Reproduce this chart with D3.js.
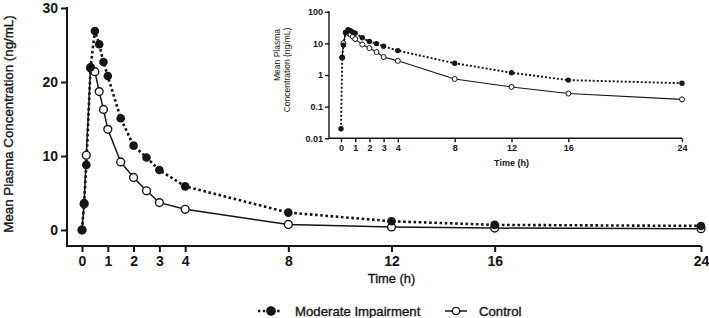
<html>
<head>
<script src="https://d3js.org/d3.v7.min.js"></script>
<style>
    body { margin: 0; background: white; }
    text { font-family: "Liberation Sans", Arial, Helvetica, sans-serif; fill: #151515; }
    .tick line, .axisline { stroke: #151515; }
    .medium { stroke: #151515; stroke-width: 0.35px; }
</style>
</head>
<body>
<script>
    // sampling times (h) and mean concentrations (ng/mL)
    var times    = [0, 0.083, 0.167, 0.333, 0.5, 0.667, 0.833, 1, 1.5, 2, 2.5, 3, 4, 8, 12, 16, 24];
    var moderate = [0.02, 3.65, 8.8, 22.0, 26.9, 25.1, 22.7, 20.8, 15.1, 11.4, 9.8, 8.1, 5.9, 2.35, 1.18, 0.69, 0.55];
    var control  = [0, 3.5, 10.1, 21.9, 21.4, 18.7, 16.3, 13.6, 9.2, 7.1, 5.3, 3.7, 2.8, 0.75, 0.42, 0.26, 0.17];
    var seriesNames = ["Moderate Impairment", "Control"];
    var xTicks = [0, 1, 2, 3, 4, 8, 12, 16, 24];
    var yTicksMain = [0, 10, 20, 30];
    var yTicksLog = [0.01, 0.1, 1, 10, 100];

    var width = 709, height = 318;
    var svg = d3.select("body").append("svg").attr("width", width).attr("height", height);

    var modPts = times.map(function(t, i) { return [t, moderate[i]]; });
    var ctlPts = times.map(function(t, i) { return [t, control[i]]; });

    // ---------- main panel ----------
    var x = d3.scaleLinear().domain([0, 24]).range([82, 701]);
    var y = d3.scaleLinear().domain([0, 30]).range([230, 8]);
    var axisY0 = 246, axisX0 = 67;

    var gx = svg.append("g").attr("transform", "translate(0," + axisY0 + ")")
        .call(d3.axisBottom(x).tickValues(xTicks).tickSize(6).tickPadding(4).tickSizeOuter(0));
    gx.select(".domain").remove();
    gx.selectAll(".tick line").attr("stroke-width", 2);
    gx.selectAll("text").style("font-size", "14px").style("font-weight", "bold").attr("fill", "#151515");

    var gy = svg.append("g").attr("transform", "translate(" + axisX0 + ",0)")
        .call(d3.axisLeft(y).tickValues(yTicksMain).tickSize(6).tickPadding(3).tickSizeOuter(0));
    gy.select(".domain").remove();
    gy.selectAll(".tick line").attr("stroke-width", 2);
    gy.selectAll("text").style("font-size", "14px").style("font-weight", "bold").attr("fill", "#151515");

    svg.append("line").attr("class", "axisline").attr("x1", axisX0).attr("x2", x(24))
        .attr("y1", axisY0).attr("y2", axisY0).attr("stroke-width", 2);
    svg.append("line").attr("class", "axisline").attr("x1", axisX0).attr("x2", axisX0)
        .attr("y1", y(30) - 1).attr("y2", axisY0 + 1).attr("stroke-width", 2);

    var line = d3.line().x(function(d) { return x(d[0]); }).y(function(d) { return y(d[1]); });

    svg.append("path").datum(ctlPts).attr("d", line).attr("fill", "none")
        .attr("stroke", "#151515").attr("stroke-width", 1.5);
    svg.append("path").datum(modPts).attr("d", line).attr("fill", "none")
        .attr("stroke", "#151515").attr("stroke-width", 2.6).attr("stroke-dasharray", "2.6,2.6");

    svg.append("g").selectAll("circle").data(ctlPts).enter().append("circle")
        .attr("cx", function(d) { return x(d[0]); }).attr("cy", function(d) { return y(d[1]); })
        .attr("r", 3.9).attr("fill", "white").attr("stroke", "#151515").attr("stroke-width", 1.4);
    svg.append("g").selectAll("circle").data(modPts).enter().append("circle")
        .attr("cx", function(d) { return x(d[0]); }).attr("cy", function(d) { return y(d[1]); })
        .attr("r", 4.3).attr("fill", "#151515");

    svg.append("text").attr("class", "medium").attr("transform", "translate(8,124) rotate(-90)").attr("dy", "0.35em")
        .attr("text-anchor", "middle").style("font-size", "13.3px")
        .text("Mean Plasma Concentration (ng/mL)");
    svg.append("text").attr("class", "medium").attr("x", x(12)).attr("y", 283).attr("text-anchor", "middle")
        .style("font-size", "12.9px").text("Time (h)");

    // ---------- inset (log scale) ----------
    var xi = d3.scaleLinear().domain([0, 24]).range([341, 682]);
    var yi = d3.scaleLog().domain([0.01, 100]).range([138.3, 11.7]);
    var inX0 = 329, inY0 = 138.3;

    var ix = svg.append("g").attr("transform", "translate(0," + inY0 + ")")
        .call(d3.axisBottom(xi).tickValues(xTicks).tickSize(4).tickPadding(2).tickSizeOuter(0));
    ix.select(".domain").remove();
    ix.selectAll(".tick line").attr("stroke-width", 1.4);
    ix.selectAll("text").style("font-size", "9px").style("font-weight", "bold").attr("fill", "#151515");

    var iy = svg.append("g").attr("transform", "translate(" + inX0 + ",0)")
        .call(d3.axisLeft(yi).tickValues(yTicksLog).tickFormat(function(d) { return String(d); })
            .tickSize(4).tickPadding(2).tickSizeOuter(0));
    iy.select(".domain").remove();
    iy.selectAll(".tick line").attr("stroke-width", 1.4);
    iy.selectAll("text").style("font-size", "9px").style("font-weight", "bold").attr("fill", "#151515");

    svg.append("line").attr("class", "axisline").attr("x1", inX0).attr("x2", xi(24))
        .attr("y1", inY0).attr("y2", inY0).attr("stroke-width", 1.4);
    svg.append("line").attr("class", "axisline").attr("x1", inX0).attr("x2", inX0)
        .attr("y1", yi(100) - 0.7).attr("y2", inY0 + 0.7).attr("stroke-width", 1.4);

    var lineLog = d3.line().x(function(d) { return xi(d[0]); }).y(function(d) { return yi(d[1]); });
    var ctlLog = ctlPts.filter(function(d) { return d[1] > 0; });

    svg.append("path").datum(ctlLog).attr("d", lineLog).attr("fill", "none")
        .attr("stroke", "#151515").attr("stroke-width", 1.1);
    svg.append("path").datum(modPts).attr("d", lineLog).attr("fill", "none")
        .attr("stroke", "#151515").attr("stroke-width", 1.9).attr("stroke-dasharray", "2,2");

    svg.append("g").selectAll("circle").data(ctlLog).enter().append("circle")
        .attr("cx", function(d) { return xi(d[0]); }).attr("cy", function(d) { return yi(d[1]); })
        .attr("r", 2.5).attr("fill", "white").attr("stroke", "#151515").attr("stroke-width", 1);
    svg.append("g").selectAll("circle").data(modPts).enter().append("circle")
        .attr("cx", function(d) { return xi(d[0]); }).attr("cy", function(d) { return yi(d[1]); })
        .attr("r", 2.7).attr("fill", "#151515");

    svg.append("text").attr("transform", "translate(277,55) rotate(-90)").attr("dy", "0.35em")
        .attr("text-anchor", "middle").style("font-size", "8.5px").text("Mean Plasma");
    svg.append("text").attr("transform", "translate(287,70) rotate(-90)").attr("dy", "0.35em")
        .attr("text-anchor", "middle").style("font-size", "8.5px").text("Concentration (ng/mL)");
    svg.append("text").attr("x", xi(12)).attr("y", 166).attr("text-anchor", "middle")
        .style("font-size", "9px").style("font-weight", "bold").text("Time (h)");

    // ---------- legend ----------
    var legendX = [258, 445];
    var legend = svg.append("g").selectAll("g").data(seriesNames).enter().append("g")
        .attr("transform", function(d, i) { return "translate(" + legendX[i] + ",311)"; });
    legend.append("line").attr("x1", 0).attr("x2", function(d, i) { return i == 0 ? 24 : 22; })
        .attr("y1", 0).attr("y2", 0).attr("stroke", "#151515")
        .attr("stroke-width", function(d, i) { return i == 0 ? 2.4 : 1.5; })
        .attr("stroke-dasharray", function(d, i) { return i == 0 ? "2.4,2.4" : null; });
    legend.append("circle").attr("cx", function(d, i) { return i == 0 ? 13 : 11; }).attr("cy", 0)
        .attr("r", function(d, i) { return i == 0 ? 4.2 : 3.7; })
        .attr("fill", function(d, i) { return i == 0 ? "#151515" : "white"; })
        .attr("stroke", "#151515").attr("stroke-width", 1.3);
    legend.append("text").attr("class", "medium").attr("x", function(d, i) { return i == 0 ? 37 : 34; }).attr("y", 4.5)
        .style("font-size", "13.2px").text(function(d) { return d; });
</script>
</body>
</html>
